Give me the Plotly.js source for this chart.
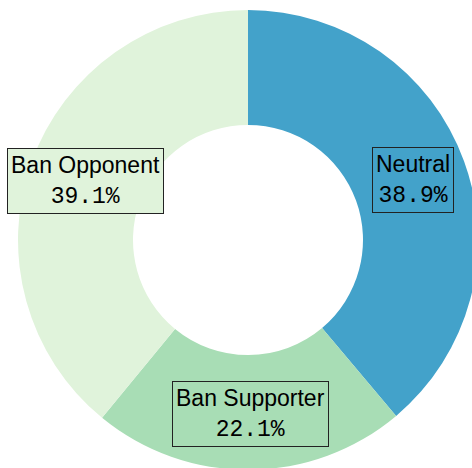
<!DOCTYPE html>
<html>
<head>
<meta charset="utf-8">
<script src="https://cdn.plot.ly/plotly-3.0.1.min.js"></script>
<style>
html,body{margin:0;padding:0;overflow:hidden;background:#fff;}
#chart{width:496px;height:480px;}
</style>
</head>
<body>
<div id="chart"></div>
<script>
const categories = ["Neutral", "Ban Supporter", "Ban Opponent"];
const shares = [38.9, 22.1, 39.1];
const sliceColors = ["#43a2ca", "#a8ddb5", "#e0f3db"];

const W = 496, H = 480, M = 10;
const plotW = W - 2 * M, plotH = H - 2 * M;
const outerR = Math.min(plotW, plotH) / 2;
const hole = 0.5;
const labelR = outerR * (1 + hole) / 2 + 2;

const total = shares.reduce((a, b) => a + b, 0);
let cum = 0;
const annotations = categories.map((c, i) => {
  const mid = (cum + shares[i] / 2) / total * 2 * Math.PI;
  cum += shares[i];
  return {
    xref: "paper", yref: "paper",
    x: 0.5 + labelR * Math.sin(mid) / plotW + 1.5 / plotW,
    y: 0.5 + labelR * Math.cos(mid) / plotH,
    xanchor: "center", yanchor: "middle",
    showarrow: false,
    text: c + "<br><span style=\"font-family:'Liberation Mono', monospace\">" + shares[i].toFixed(1) + "%</span>",
    font: {family: "'Liberation Sans', Arial, sans-serif", size: 23, color: "#000"},
    bgcolor: sliceColors[i],
    bordercolor: "#222",
    borderwidth: 1,
    borderpad: 3
  };
});

const data = [{
  type: "pie",
  labels: categories,
  values: shares,
  hole: hole,
  sort: false,
  direction: "clockwise",
  rotation: 0,
  marker: {colors: sliceColors, line: {color: "#ffffff", width: 0}},
  textinfo: "none",
  hoverinfo: "label+percent",
  showlegend: false
}];

const layout = {
  width: W, height: H,
  margin: {l: M, r: M, t: M, b: M, pad: 0},
  paper_bgcolor: "#ffffff",
  showlegend: false,
  annotations: annotations
};

Plotly.newPlot("chart", data, layout, {displayModeBar: false, staticPlot: true});
</script>
</body>
</html>
